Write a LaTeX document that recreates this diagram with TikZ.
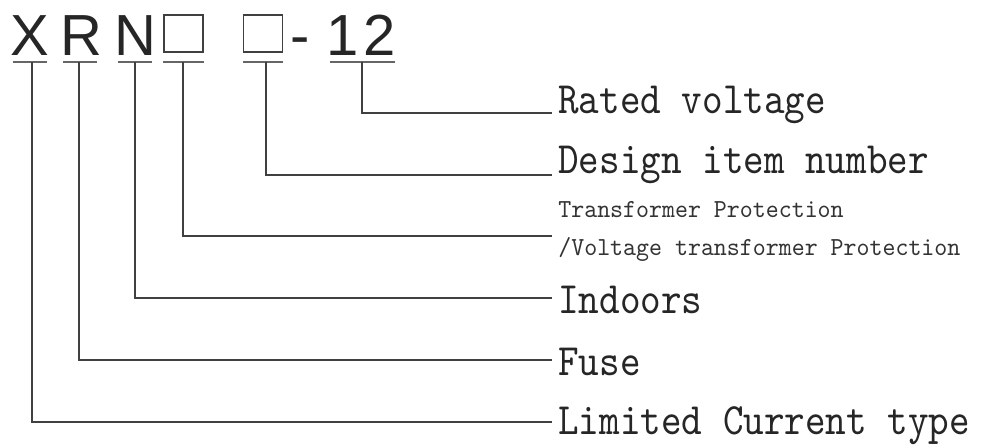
\documentclass[tikz,border=0pt]{standalone}
\usepackage{fontspec}
\usepackage{xcolor}
\usepackage{tikz}
\usetikzlibrary{positioning}
\setmainfont{Liberation Sans}
\newfontfamily\keyfont[FakeStretch=0.875]{lmmono10-regular.otf}
\newfontfamily\smallkeyfont[FakeStretch=0.95]{lmmono10-regular.otf}

\begin{document}
\begin{tikzpicture}[x=0.02cm, y=-0.02cm,
  code/.style={inner sep=0pt, anchor=base, font=\fontsize{33}{33}\selectfont, text=black!85},
  blank/.style={draw=black!75, line width=1.1pt, minimum width=0.78cm, minimum height=0.74cm, inner sep=0pt},
  bar/.style={draw=black!60, line width=1.1pt},
  lead/.style={draw=black!75, line width=1.2pt},
  meaning/.style={inner sep=0pt, anchor=base west, font=\keyfont\fontsize{25.5}{25.5}\selectfont, text=black!85},
  smallmeaning/.style={inner sep=0pt, anchor=base west, font=\smallkeyfont\fontsize{14.8}{14.8}\selectfont, text=black!80}]

\useasboundingbox (0,0) rectangle (984,444);

\node[code] (cx) at (29.5,55) {X};
\node[code] (cr) at (81.5,55) {R};
\node[code] (cn) at (135,55) {N};
\node[blank] (cbox1) at (183.5,33.5) {};
\node[blank] (cbox2) at (263,33.5) {};
\node[code] (cdash) at (300.5,55) {-};
\node[code] (cone) at (342.5,55) {1};
\node[code] (ctwo) at (380,55) {2};

\draw[bar] (13,62) -- (47,62);
\draw[bar] (63,62) -- (97,62);
\draw[bar] (118,62) -- (152,62);
\draw[bar] (163,62) -- (204,62);
\draw[bar] (243,62) -- (283,62);
\draw[bar] (330,62) -- (395,62);

\coordinate (xu) at (32,62);
\coordinate (ru) at (79,62);
\coordinate (nu) at (135,62);
\coordinate (b1u) at (183,62);
\coordinate (b2u) at (266,62);
\coordinate (vu) at (362,62);

\node[meaning] (rated) at (558,113) {Rated voltage};
\node[meaning] (design) at (558,173) {Design item number};
\node[smallmeaning] (prot1) at (558,217) {Transformer Protection};
\node[smallmeaning] (prot2) at (558,255) {/Voltage transformer Protection};
\node[meaning] (indoor) at (558,313) {Indoors};
\node[meaning] (fuse) at (558,375) {Fuse};
\node[meaning] (limited) at (558,434) {Limited Current type};

\coordinate (ratedend) at (552,113);
\coordinate (designend) at (552,175);
\coordinate (protend) at (552,236);
\coordinate (indoorend) at (552,298);
\coordinate (fuseend) at (552,360);
\coordinate (limitedend) at (552,422);

\draw[lead] (vu) |- (ratedend);
\draw[lead] (b2u) |- (designend);
\draw[lead] (b1u) |- (protend);
\draw[lead] (nu) |- (indoorend);
\draw[lead] (ru) |- (fuseend);
\draw[lead] (xu) |- (limitedend);

\end{tikzpicture}
\end{document}
